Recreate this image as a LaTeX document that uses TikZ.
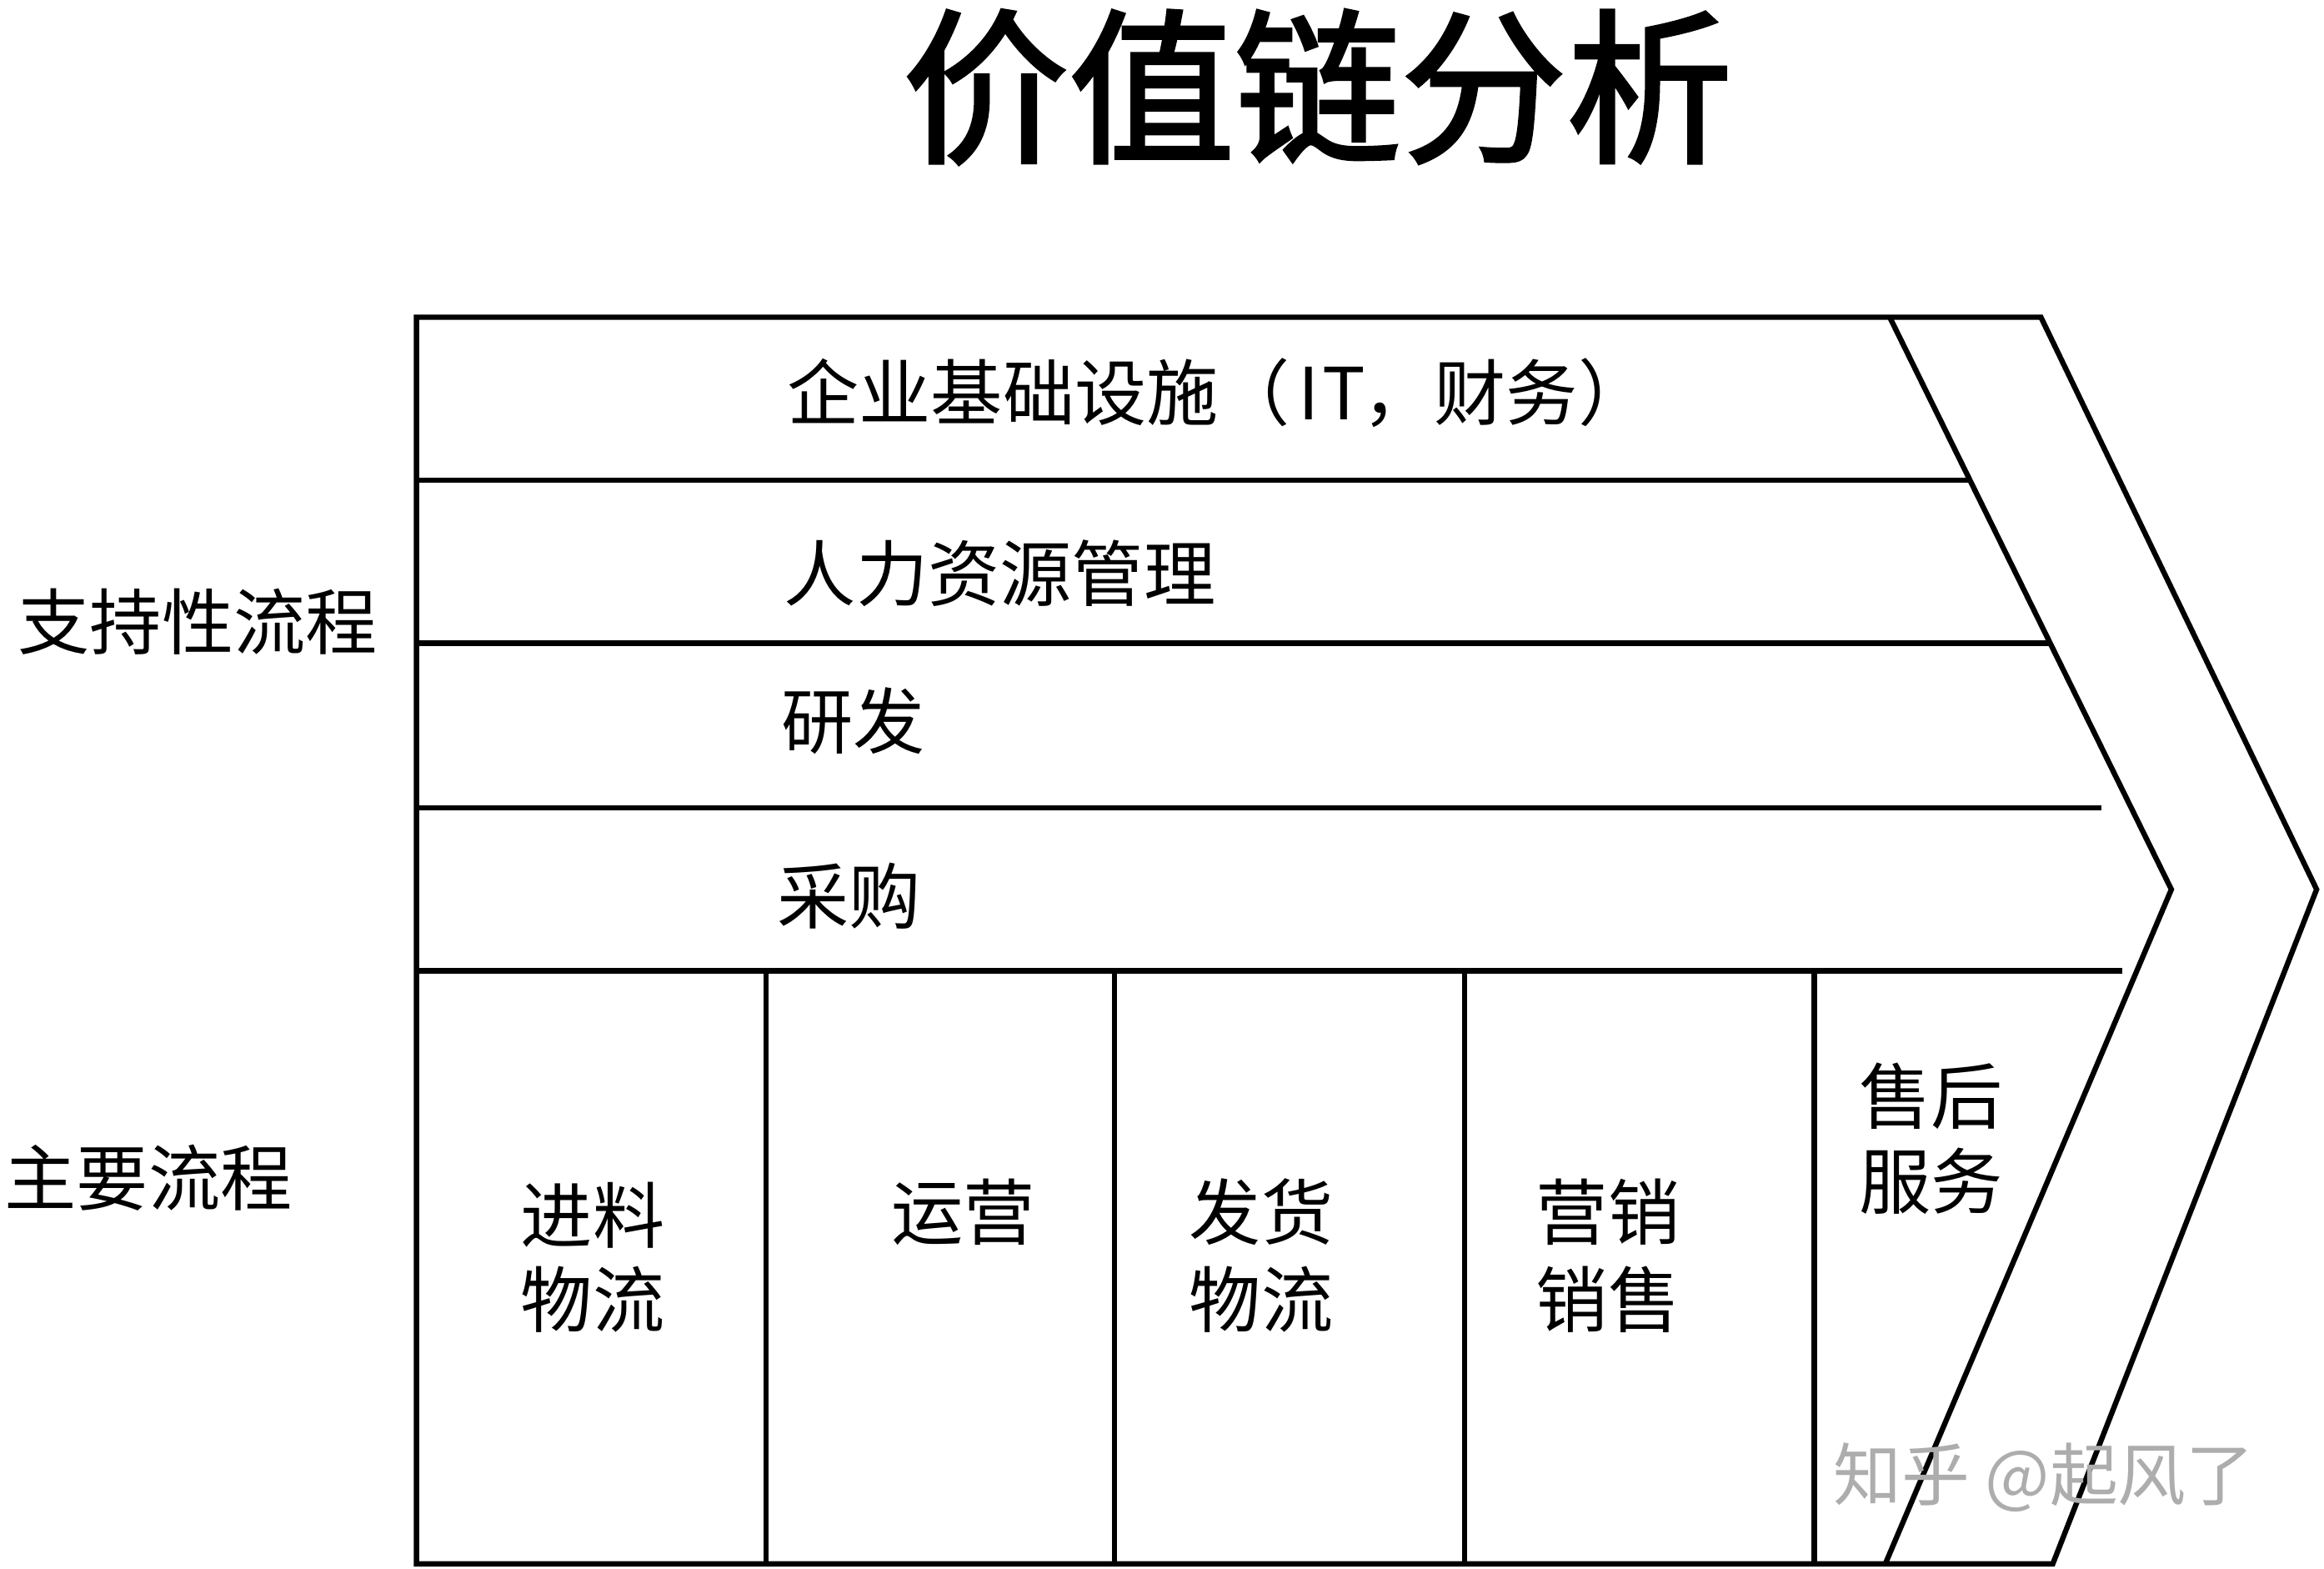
\documentclass[tikz,border=0pt]{standalone}
\usepackage{fontspec}
\newfontfamily\cjk{Noto Sans CJK SC}
\newfontfamily\cjktitle[FakeBold=2]{Noto Sans CJK SC}
\tikzset{
  frame/.style={line width=3.6pt, line join=miter, line cap=butt},
  lbl/.style={font=\cjk\fontsize{48.5}{58}\selectfont, inner sep=0pt, anchor=base west},
  cell/.style={font=\cjk\fontsize{48.5}{58}\selectfont, inner sep=0pt, anchor=base},
  wm/.style={font=\cjk\fontsize{46}{50}\selectfont, inner sep=0pt, anchor=base west, text=black!32}
}
\begin{document}
\begin{tikzpicture}[x=1pt,y=-1pt]
\useasboundingbox[fill=white] (0,0) rectangle (1568,1058.45);
% title
\node[font=\cjktitle\fontsize{112}{120}\selectfont, inner sep=0pt, anchor=base] (title) at (889,101) {价值链分析};
% frame coordinates
\coordinate (tl) at (281,214);
\coordinate (tr) at (1377,214);
\coordinate (tip) at (1563,600);
\coordinate (br) at (1385,1055);
\coordinate (bl) at (281,1055);
\coordinate (itop) at (1275,214);
\coordinate (itip) at (1465,600);
\coordinate (ibot) at (1272,1055);
\draw[frame] (tl) -- (tr) -- (tip) -- (br) -- (bl) -- cycle;
\draw[frame] (itop) -- (itip) -- (ibot);
% support rows
\coordinate (h1a) at (281,324); \coordinate (h1b) at (1329,324);
\coordinate (h2a) at (281,434); \coordinate (h2b) at (1383,434);
\coordinate (h3a) at (281,545); \coordinate (h3b) at (1418,545);
\coordinate (h4a) at (281,655); \coordinate (h4b) at (1432,655);
\draw[frame] (h1a) -- (h1b);
\draw[frame] (h2a) -- (h2b);
\draw[frame] (h3a) -- (h3b);
\draw[frame] (h4a) -- (h4b);
% primary dividers
\foreach \x [count=\i] in {517,752,988,1224}{
  \coordinate (v\i a) at (\x,655);
  \coordinate (v\i b) at (\x,1055);
  \draw[frame] (v\i a) -- (v\i b);
}
% support labels
\node[lbl] (infra) at (531,283) {企业基础设施（\makebox[0.5em]{I}\makebox[0.5em]{T}，财务）};
\node[lbl] (hr) at (529,405) {人力资源管理};
\node[lbl] (rd) at (527,505) {研发};
\node[lbl] (buy) at (524,623) {采购};
% side labels
\node[lbl] (support) at (12,438) {支持性流程};
\node[lbl] (primary) at (3,813) {主要流程};
% primary cells
\node[cell] (p1a) at (400,838) {进料};
\node[cell] (p1b) at (400,895) {物流};
\node[cell] (p2a) at (650,836) {运营};
\node[cell] (p3a) at (851,836) {发货};
\node[cell] (p3b) at (851,895) {物流};
\node[cell] (p4a) at (1085,836) {营销};
\node[cell] (p4b) at (1085,895) {销售};
\node[cell] (p5a) at (1303,758) {售后};
\node[cell] (p5b) at (1303,815) {服务};
% watermark
\node[wm] (mark) at (1237,1012) {知乎 @起风了};
\end{tikzpicture}
\end{document}
